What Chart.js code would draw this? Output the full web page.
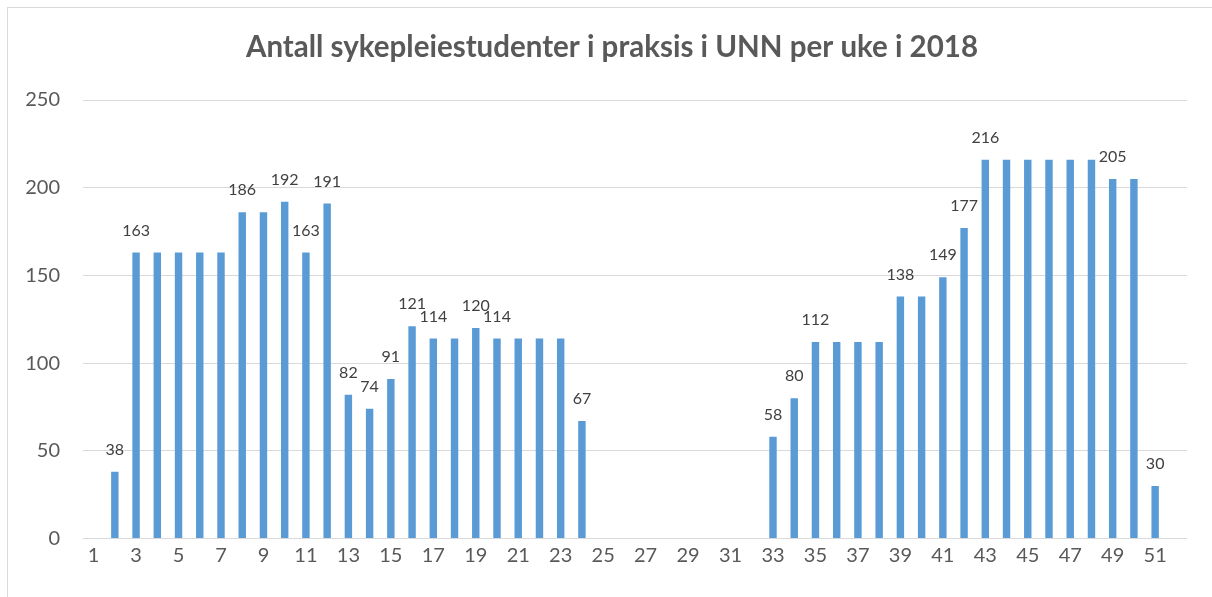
<!DOCTYPE html>
<html>
<head>
<meta charset="utf-8">
<script src="https://cdn.jsdelivr.net/npm/chart.js@4/dist/chart.umd.min.js"></script>
<style>
  html, body { margin: 0; padding: 0; background: #fff; overflow: hidden; }
  #frame { position: absolute; left: 7px; top: 7px; width: 1240px; height: 640px; border: 1px solid #d9d9d9; box-sizing: border-box; }
  #wrap { position: absolute; left: 0; top: 0; width: 1212px; height: 597px; }
</style>
</head>
<body>
<div id="frame"></div>
<div id="wrap"><canvas id="c" width="1212" height="597"></canvas></div>
<script>
const titleText = "Antall sykepleiestudenter i praksis i UNN per uke i 2018";
const weeks = ["1","2","3","4","5","6","7","8","9","10","11","12","13","14","15","16","17","18","19","20","21","22","23","24","25","26","27","28","29","30","31","32","33","34","35","36","37","38","39","40","41","42","43","44","45","46","47","48","49","50","51","52"];
const students = [null,38,163,163,163,163,163,186,186,192,163,191,82,74,91,121,114,114,120,114,114,114,114,67,null,null,null,null,null,null,null,null,58,80,112,112,112,112,138,138,149,177,216,216,216,216,216,216,205,205,30,null];
const labelledWeeks = ["2","3","8","10","11","12","13","14","15","16","17","19","20","24","33","34","35","39","41","42","43","49","51"];
const yTicks = [0,50,100,150,200,250];

const titlePlugin = {
  id: 'titleText',
  afterDraw(chart) {
    const ctx = chart.ctx;
    ctx.save();
    ctx.font = 'bold 29.5px Lato';
    ctx.fillStyle = '#595959';
    ctx.textAlign = 'center';
    ctx.textBaseline = 'middle';
    ctx.fillText(titleText, 612, 47);
    ctx.restore();
  }
};

const valueLabels = {
  id: 'valueLabels',
  afterDatasetsDraw(chart) {
    const ctx = chart.ctx;
    const meta = chart.getDatasetMeta(0);
    ctx.save();
    ctx.font = '16px Lato';
    ctx.fillStyle = '#404040';
    ctx.textAlign = 'center';
    ctx.textBaseline = 'middle';
    meta.data.forEach((bar, i) => {
      const v = students[i];
      if (v === null || !labelledWeeks.includes(weeks[i])) return;
      ctx.fillText(String(v), bar.x, bar.y - 22);
    });
    ctx.restore();
  }
};

new Chart(document.getElementById('c'), {
  type: 'bar',
  data: {
    labels: weeks,
    datasets: [{
      data: students,
      backgroundColor: '#5B9BD5',
      borderWidth: 0,
      barPercentage: 0.35,
      categoryPercentage: 1.0
    }]
  },
  options: {
    responsive: false,
    animation: false,
    layout: { padding: { left: 0, right: 25, top: 100, bottom: 0 } },
    plugins: { legend: { display: false }, title: { display: false }, tooltip: { enabled: false } },
    scales: {
      x: {
        grid: { display: false, drawTicks: false },
        border: { display: false },
        ticks: {
          autoSkip: false, maxRotation: 0, padding: 5,
          color: '#595959', font: { family: 'Lato', size: 20 },
          callback: function(val, idx) { return idx % 2 === 0 ? weeks[idx] : ''; }
        },
        afterFit(scale) { scale.height = 58.5; }
      },
      y: {
        min: 0, max: 250,
        afterBuildTicks(scale) { scale.ticks = yTicks.map(v => ({ value: v })); },
        grid: { color: '#d9d9d9', lineWidth: 1, drawTicks: false },
        border: { display: false },
        ticks: { padding: 23, color: '#595959', font: { family: 'Lato', size: 20 } },
        afterFit(scale) { scale.width = 83; }
      }
    }
  },
  plugins: [titlePlugin, valueLabels]
});
</script>
</body>
</html>
